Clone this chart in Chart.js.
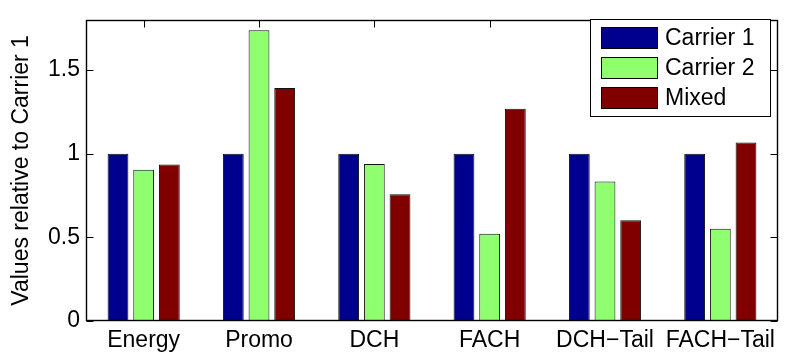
<!DOCTYPE html>
<html>
<head>
<meta charset="utf-8">
<script src="https://cdn.jsdelivr.net/npm/chart.js@4"></script>
<style>
  html, body { margin: 0; padding: 0; background: #fff; }
  #wrap { width: 788px; height: 355px; }
</style>
</head>
<body>
<div id="wrap"><canvas id="c" width="788" height="355"></canvas></div>
<script>
// Categories and series (values relative to Carrier 1)
const categories = ['Energy', 'Promo', 'DCH', 'FACH', 'DCH\u2212Tail', 'FACH\u2212Tail'];
const carrier1 = [1, 1, 1, 1, 1, 1];
const carrier2 = [0.904, 1.737, 0.938, 0.522, 0.834, 0.551];
const mixed    = [0.935, 1.393, 0.757, 1.269, 0.602, 1.067];
const seriesNames = ['Carrier 1', 'Carrier 2', 'Mixed'];
const yTickValues = [0, 0.5, 1, 1.5];
const yTickLabels = ['0', '0.5', '1', '1.5'];
const yMin = 0, yMax = 1.8;

const FONT = 'Liberation Sans, Arial, Helvetica, sans-serif';
const FONT_SIZE = 23;
const colors = ['#00008F', '#8FFF70', '#800000'];

// Axis box, inward tick marks and in-plot legend
const frame = {
  id: 'frame',
  beforeDatasetsDraw(chart) {
    const { ctx, chartArea: a, scales: { x } } = chart;
    ctx.save();
    ctx.strokeStyle = '#000';
    ctx.lineWidth = 1;
    ctx.beginPath();
    for (let i = 0; i < categories.length; i++) {
      const px = Math.round(x.getPixelForValue(i)) + 0.5;
      ctx.moveTo(px, a.bottom); ctx.lineTo(px, a.bottom - 7);
    }
    ctx.stroke();
    ctx.restore();
  },
  afterDraw(chart) {
    const { ctx, chartArea: a, scales: { x, y } } = chart;
    ctx.save();
    ctx.strokeStyle = '#000';
    ctx.lineWidth = 1;
    const L = Math.round(a.left) + 0.5, R = Math.round(a.right) - 0.5;
    const T = Math.round(a.top) + 0.5, B = Math.round(a.bottom) - 0.5;
    ctx.beginPath();
    // top x ticks
    for (let i = 0; i < categories.length; i++) {
      const px = Math.round(x.getPixelForValue(i)) + 0.5;
      ctx.moveTo(px, T); ctx.lineTo(px, T + 7);
    }
    // y ticks on both sides
    yTickValues.forEach(v => {
      const py = Math.round(y.getPixelForValue(v)) + 0.5;
      ctx.moveTo(L, py); ctx.lineTo(L + 7, py);
      ctx.moveTo(R, py); ctx.lineTo(R - 7, py);
    });
    ctx.stroke();
    ctx.lineWidth = 1.4;
    ctx.strokeRect(L, T, R - L, B - T);

    // legend
    const lx = 590.5, ly = 19.5, lw = 180, lh = 97;
    ctx.fillStyle = '#fff';
    ctx.fillRect(lx, ly, lw, lh);
    ctx.lineWidth = 1;
    ctx.strokeRect(lx, ly, lw, lh);
    ctx.font = FONT_SIZE + 'px ' + FONT;
    ctx.textBaseline = 'middle';
    chart.data.datasets.forEach((ds, i) => {
      const sy = 27.5 + i * 30;
      ctx.fillStyle = ds.backgroundColor;
      ctx.fillRect(601.5, sy, 56, 21);
      ctx.strokeStyle = '#000';
      ctx.strokeRect(601.5, sy, 56, 21);
      ctx.fillStyle = '#000';
      ctx.fillText(ds.label, 665, sy + 11.5);
    });
    ctx.restore();
  }
};

new Chart(document.getElementById('c'), {
  type: 'bar',
  data: {
    labels: categories,
    datasets: [carrier1, carrier2, mixed].map((d, i) => ({
      label: seriesNames[i],
      data: d,
      backgroundColor: colors[i],
      borderColor: '#111',
      borderWidth: 1,
      borderSkipped: false,
      categoryPercentage: 0.668,
      barPercentage: 0.81
    }))
  },
  options: {
    responsive: false,
    animation: false,
    devicePixelRatio: 1,
    layout: { padding: { left: 0, right: 10, top: 9, bottom: 0 } },
    plugins: { legend: { display: false }, tooltip: { enabled: false } },
    scales: {
      x: {
        grid: { display: false, drawTicks: false },
        border: { display: false },
        ticks: { color: '#000', font: { family: FONT, size: FONT_SIZE }, padding: 6, autoSkip: false, maxRotation: 0 },
        afterFit(s) { s.height = 34; }
      },
      y: {
        min: yMin, max: yMax,
        grid: { display: false, drawTicks: false },
        border: { display: false },
        afterBuildTicks(s) { s.ticks = yTickValues.map(v => ({ value: v })); },
        ticks: {
          color: '#000', font: { family: FONT, size: FONT_SIZE }, padding: 6,
          callback: (v) => yTickLabels[yTickValues.indexOf(v)]
        },
        title: {
          display: true, text: 'Values relative to Carrier 1', color: '#000',
          font: { family: FONT, size: FONT_SIZE }, padding: { top: 8, bottom: 0 }
        },
        afterFit(s) { s.width = 86; }
      }
    }
  },
  plugins: [frame]
});
</script>
</body>
</html>
